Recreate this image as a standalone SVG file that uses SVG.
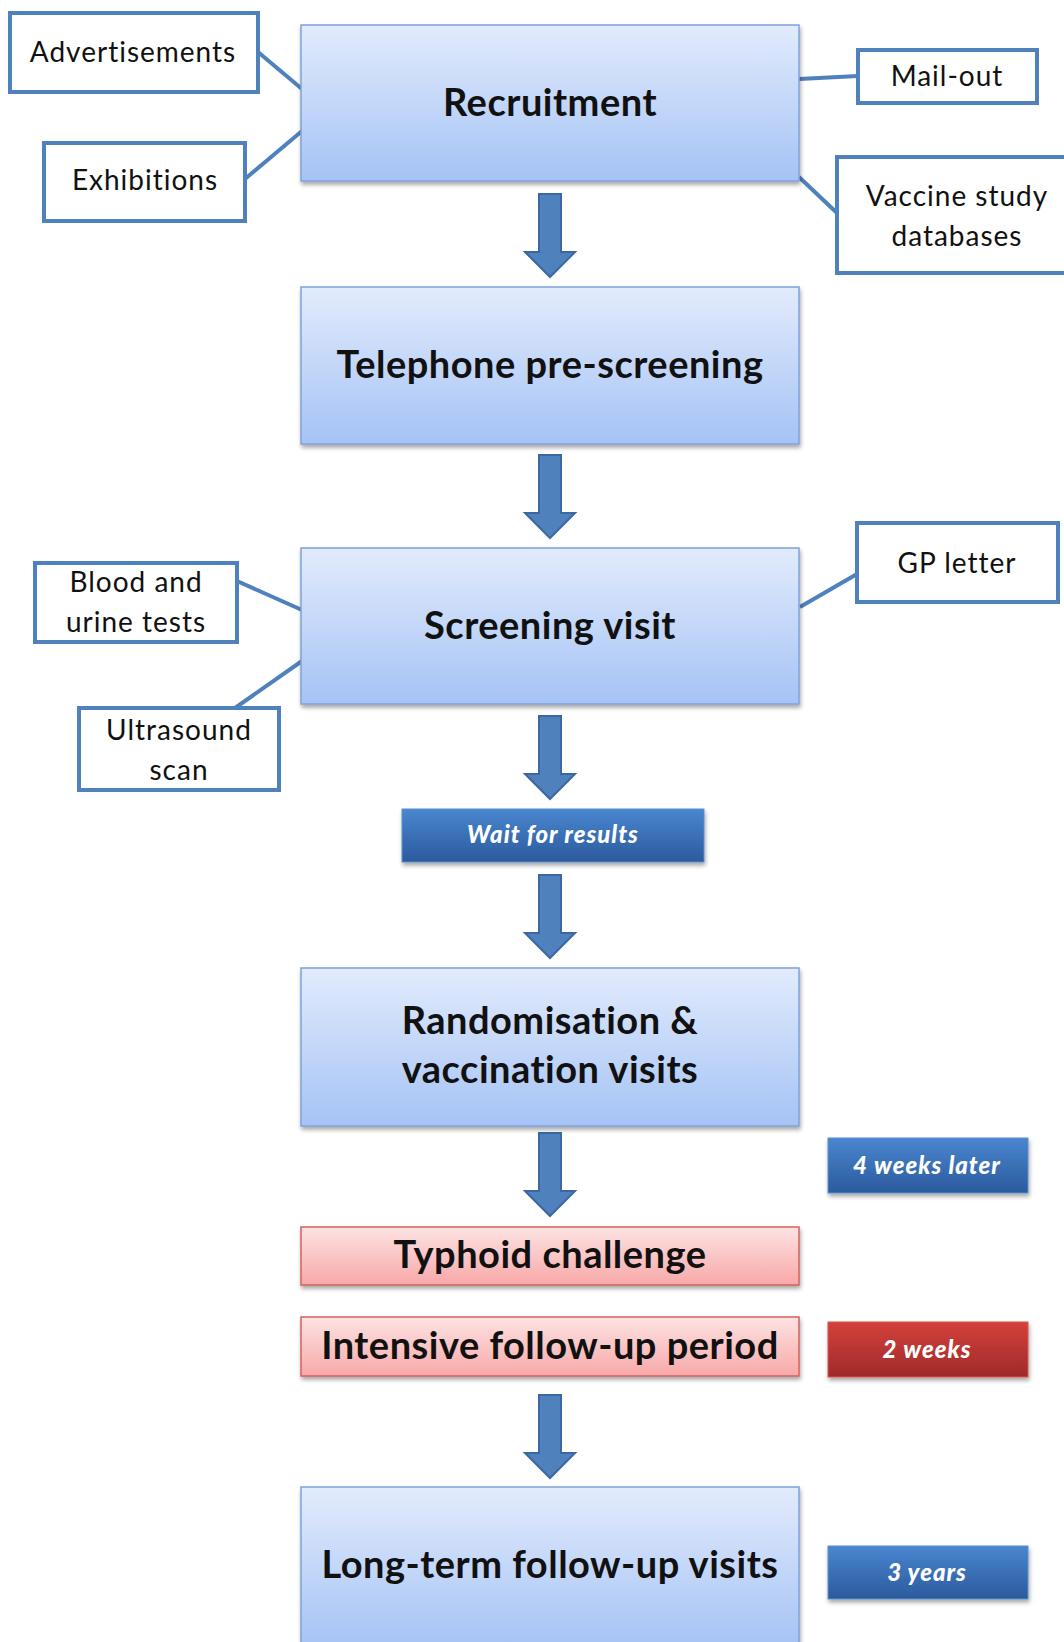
<svg xmlns="http://www.w3.org/2000/svg" width="1064" height="1642" viewBox="0 0 1064 1642">
<defs>
<linearGradient id="gBlue" x1="0" y1="0" x2="0" y2="1"><stop offset="0" stop-color="#e2ebfc"/><stop offset="1" stop-color="#a5c3f5"/></linearGradient>
<linearGradient id="gPink" x1="0" y1="0" x2="0" y2="1"><stop offset="0" stop-color="#fde3e3"/><stop offset="1" stop-color="#f8a8a8"/></linearGradient>
<linearGradient id="gDark" x1="0" y1="0" x2="0" y2="1"><stop offset="0" stop-color="#4a86d0"/><stop offset="1" stop-color="#2b5a9c"/></linearGradient>
<linearGradient id="gRed" x1="0" y1="0" x2="0" y2="1"><stop offset="0" stop-color="#d4403b"/><stop offset="1" stop-color="#9f2a2a"/></linearGradient>
<filter id="sh" x="-5%" y="-10%" width="110%" height="130%"><feDropShadow dx="1" dy="3" stdDeviation="2" flood-color="#000" flood-opacity="0.35"/></filter>
</defs>
<style>
.main{fill:url(#gBlue);stroke:#7fa3d8;stroke-width:1.5;filter:url(#sh)}
.pink{fill:url(#gPink);stroke:#d4625e;stroke-width:1.5;filter:url(#sh)}
.dark{fill:url(#gDark);stroke:#5a8fd0;stroke-width:1;filter:url(#sh)}
.red{fill:url(#gRed);stroke:#d85550;stroke-width:1;filter:url(#sh)}
.side{fill:#fff;stroke:#4f81bd;stroke-width:4}
.mt{font-family:Lato,"Liberation Sans",sans-serif;font-weight:700;font-size:38px;letter-spacing:0.5px;fill:#111;text-anchor:middle}
.st{font-family:Lato,"Liberation Sans",sans-serif;font-size:28px;letter-spacing:1px;fill:#111;text-anchor:middle}
.lt{font-family:Lato,"Liberation Sans",sans-serif;font-weight:900;font-style:italic;font-size:24px;letter-spacing:1px;fill:#fff;text-anchor:middle}
.con{stroke:#4f81bd;stroke-width:4;fill:none}
.arr{fill:#4f81bd;stroke:#3b68a2;stroke-width:2}
</style>
<g id="connectors">
<line class="con" x1="258" y1="52" x2="302" y2="89"/>
<line class="con" x1="245" y1="179" x2="302" y2="131"/>
<line class="con" x1="799" y1="79" x2="858" y2="76"/>
<line class="con" x1="799" y1="177" x2="837" y2="213"/>
<line class="con" x1="237" y1="581" x2="302" y2="610"/>
<line class="con" x1="235" y1="708" x2="302" y2="661"/>
<line class="con" x1="800" y1="607" x2="857" y2="574"/>
<path class="arr" d="M539,194 h22 v58 h14 l-25,25 l-25,-25 h14 z"/>
<path class="arr" d="M539,455 h22 v58 h14 l-25,25 l-25,-25 h14 z"/>
<path class="arr" d="M539,716 h22 v58 h14 l-25,25 l-25,-25 h14 z"/>
<path class="arr" d="M539,875 h22 v58 h14 l-25,25 l-25,-25 h14 z"/>
<path class="arr" d="M539,1133 h22 v58 h14 l-25,25 l-25,-25 h14 z"/>
<path class="arr" d="M539,1395 h22 v58 h14 l-25,25 l-25,-25 h14 z"/>
</g>
<g id="recruitment"><rect class="main" x="301" y="25" width="498" height="156"/><text class="mt" x="550" y="116">Recruitment</text></g>
<g id="telephone"><rect class="main" x="301" y="287" width="498" height="157"/><text class="mt" x="550" y="378">Telephone pre-screening</text></g>
<g id="screening"><rect class="main" x="301" y="548" width="498" height="156"/><text class="mt" x="550" y="639">Screening visit</text></g>
<g id="randomisation"><rect class="main" x="301" y="968" width="498" height="158"/><text class="mt" x="550" y="1034">Randomisation &amp;</text><text class="mt" x="550" y="1083">vaccination visits</text></g>
<g id="typhoid"><rect class="pink" x="301" y="1227" width="498" height="58"/><text class="mt" x="550" y="1268">Typhoid challenge</text></g>
<g id="intensive"><rect class="pink" x="301" y="1317" width="498" height="59"/><text class="mt" x="550" y="1359">Intensive follow-up period</text></g>
<g id="longterm"><rect class="main" x="301" y="1487" width="498" height="160"/><text class="mt" x="550" y="1578">Long-term follow-up visits</text></g>
<g id="advertisements"><rect class="side" x="10" y="13" width="248" height="79"/><text class="st" x="133" y="62">Advertisements</text></g>
<g id="exhibitions"><rect class="side" x="44" y="143" width="201" height="78"/><text class="st" x="145" y="190">Exhibitions</text></g>
<g id="mailout"><rect class="side" x="858" y="50" width="179" height="53"/><text class="st" x="947" y="86">Mail-out</text></g>
<g id="vaccine"><rect class="side" x="837" y="157" width="235" height="116"/><text class="st" x="957" y="206">Vaccine study</text><text class="st" x="957" y="246">databases</text></g>
<g id="blood"><rect class="side" x="35" y="563" width="202" height="79"/><text class="st" x="136" y="592">Blood and</text><text class="st" x="136" y="632">urine tests</text></g>
<g id="ultrasound"><rect class="side" x="79" y="708" width="200" height="82"/><text class="st" x="179" y="740">Ultrasound</text><text class="st" x="179" y="780">scan</text></g>
<g id="gpletter"><rect class="side" x="857" y="523" width="201" height="79"/><text class="st" x="957" y="573">GP letter</text></g>
<g id="wait"><rect class="dark" x="402" y="809" width="302" height="53"/><text class="lt" x="553" y="843">Wait for results</text></g>
<g id="weeks4"><rect class="dark" x="828" y="1138" width="200" height="55"/><text class="lt" x="927" y="1174">4 weeks later</text></g>
<g id="weeks2"><rect class="red" x="828" y="1322" width="200" height="55"/><text class="lt" x="927" y="1358">2 weeks</text></g>
<g id="years3"><rect class="dark" x="828" y="1546" width="200" height="53"/><text class="lt" x="927" y="1581">3 years</text></g>
</svg>
